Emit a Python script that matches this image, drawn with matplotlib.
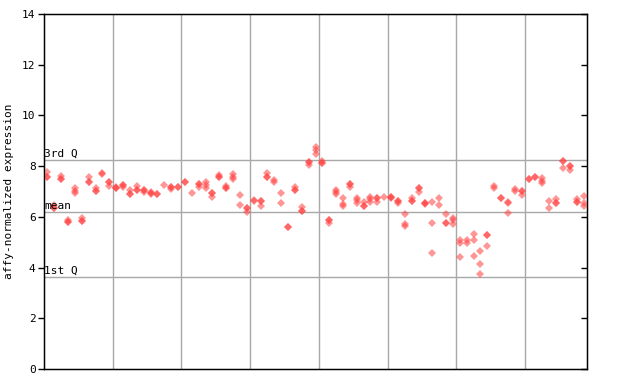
import numpy as np
import matplotlib
matplotlib.use("Agg")
import matplotlib.pyplot as plt

# replicate values per sample (left to right)
samples = [
    [7.76, 7.58, 7.58], [6.45, 6.36, 6.36], [7.61, 7.48, 7.48], [5.88, 5.78, 5.78],
    [7.12, 7.03, 6.93], [5.97, 5.84, 5.84], [7.58, 7.37, 7.37], [7.12, 7.02, 7.02],
    [7.72, 7.68], [7.36, 7.36, 7.23], [7.19, 7.12, 7.12], [7.25, 7.25, 7.19],
    [7.06, 6.90, 6.90], [7.22, 7.06, 7.06], [7.06, 7.06, 6.97], [6.99, 6.94, 6.89],
    [6.90, 6.90], [7.26], [7.16, 7.16, 7.08], [7.19, 7.19],
    [7.36, 7.36], [6.93], [7.28, 7.28, 7.19], [7.36, 7.26, 7.15],
    [6.93, 6.93, 6.80], [7.65, 7.56, 7.56], [7.23, 7.15, 7.15], [7.68, 7.58, 7.49],
    [6.86, 6.47], [6.34, 6.34, 6.20], [6.68, 6.62], [6.64, 6.64, 6.43],
    [7.71, 7.56, 7.56], [7.45, 7.36], [6.93, 6.56], [5.61, 5.61],
    [7.19, 7.06, 7.06], [6.40, 6.23, 6.23], [8.18, 8.18, 8.04], [8.75, 8.62, 8.48],
    [8.21, 8.13, 8.13], [5.88, 5.88, 5.75], [7.06, 6.97, 6.89], [6.73, 6.49, 6.43],
    [7.28, 7.28, 7.19], [6.76, 6.66, 6.53], [6.60, 6.44, 6.44], [6.80, 6.69, 6.60],
    [6.73, 6.73, 6.60], [6.77], [6.80, 6.80, 6.73], [6.62, 6.62, 6.56],
    [6.12, 5.70, 5.62], [6.76, 6.64, 6.64], [7.12, 7.12, 6.99], [6.56, 6.56, 6.51],
    [6.57, 5.74, 4.56], [6.73, 6.47], [6.11, 5.74, 5.74], [5.97, 5.88, 5.72],
    [5.09, 4.96, 4.43], [5.09, 4.96], [5.32, 5.09, 4.46], [4.65, 4.13, 3.73],
    [5.28, 5.28, 4.85], [7.20, 7.15], [6.76, 6.76], [6.60, 6.53, 6.14],
    [7.08, 7.02], [7.03, 7.03, 6.86], [7.48, 7.48], [7.58, 7.58],
    [7.52, 7.43, 7.32], [6.62, 6.34], [6.69, 6.53, 6.53], [8.21, 8.21, 7.91],
    [8.00, 8.00, 7.85], [6.69, 6.60, 6.60], [6.82, 6.56, 6.43],
]

q3 = 8.24
mean_val = 6.20
q1 = 3.62
y_ticks = [0, 2, 4, 6, 8, 10, 12, 14]
group_breaks = [9.5, 19.5, 29.5, 39.5, 49.5, 59.5, 69.5]

grey = "#a8a8a8"
red = "#ff4040"
mono = "DejaVu Sans Mono"

fig = plt.figure(figsize=(6.4, 3.84), dpi=100)
ax = fig.add_axes([44 / 640, 15 / 384, 543 / 640, 355 / 384])

for b in group_breaks:
    ax.axvline(b, color=grey, lw=1.0, zorder=1)
for q in (q3, mean_val, q1):
    ax.axhline(q, color=grey, lw=1.0, zorder=1)

xs = [i for i, vals in enumerate(samples) for _ in vals]
ys = [v for vals in samples for v in vals]
ax.plot(xs, ys, linestyle="none", marker="D", ms=4.0, mew=0,
        color=red, alpha=0.55, zorder=3)

ax.set_xlim(-0.5, len(samples) - 0.5)
ax.set_ylim(0, 14)
ax.set_xticks([])
ax.set_yticks(y_ticks)
ax.set_yticklabels([str(t) for t in y_ticks], family=mono, fontsize=8)
ax.tick_params(axis="y", direction="out", length=4, width=1, pad=2)
for s in ax.spines.values():
    s.set_linewidth(1.0)

ax2 = ax.twinx()
ax2.set_ylim(0, 14)
ax2.set_yticks(y_ticks)
ax2.set_yticklabels([])
ax2.tick_params(axis="y", direction="in", length=4, width=1)

for label, val in (("3rd Q", q3), ("mean", mean_val), ("1st Q", q1)):
    ax.text(-0.45, val + 0.05, label, family=mono, fontsize=8,
            va="bottom", ha="left", zorder=4)

ax.set_ylabel("affy-normalized expression", family=mono, fontsize=8, labelpad=6)

fig.savefig("out.png", dpi=100)
